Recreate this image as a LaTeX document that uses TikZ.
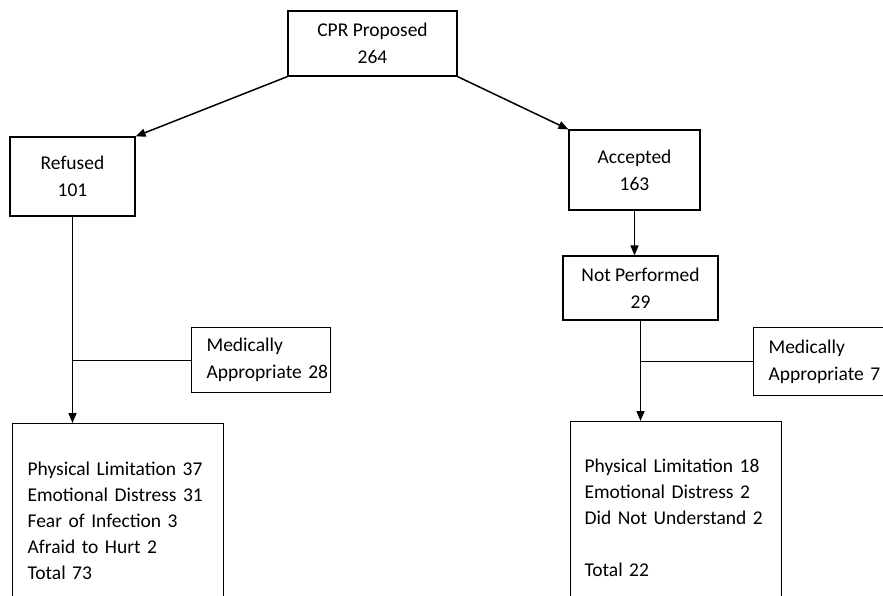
\documentclass[tikz,border=0pt]{standalone}
\usepackage{fontspec}
\setmainfont{Carlito}
\usetikzlibrary{arrows.meta}
\usetikzlibrary{positioning}

\tikzset{
  box/.style={draw,rectangle,line width=1.2pt,inner sep=0pt,align=center,
    font=\fontsize{19.5}{27}\selectfont},
  listbox/.style={box,align=left,inner xsep=15pt,anchor=north west},
  flow/.style={draw,line width=1.5pt,-{Triangle[length=10pt,width=8pt]}},
  link/.style={draw,line width=1.2pt}
}

\begin{document}
\begin{tikzpicture}[x=1pt,y=-1pt]

  \useasboundingbox (0,0) rectangle (883,596);
  \clip (0,0) rectangle (883,596);

  % top of the tree
  \node [box,minimum width=169pt,minimum height=65pt] (cpr) at (372.5,43.5) {CPR Proposed\\264};
  \node [box,minimum width=125pt,minimum height=79pt] (refused) at (72.5,176.5) {Refused\\101};
  \node [box,minimum width=131pt,minimum height=80pt] (accepted) at (634.5,170) {Accepted\\163};
  \node [box,minimum width=155pt,minimum height=64pt] (notperf) at (640.5,288) {Not Performed\\29};

  % side boxes
  \node [listbox,minimum height=65pt,text width=109pt] (medL) at (191,327) {Medically\\Appropriate~28};
  \node [listbox,minimum height=68pt,text width=109pt] (medR) at (753,327) {Medically\\Appropriate~7};

  % reasons
  \node [listbox,text width=181pt,minimum height=194pt,font=\fontsize{19.5}{26}\selectfont] (outL) at (12,423)
    {Physical Limitation 37\\Emotional Distress 31\\Fear of Infection 3\\Afraid to Hurt 2\\Total 73};
  \node [listbox,text width=183pt,minimum height=193pt,inner xsep=14pt,font=\fontsize{19.5}{26}\selectfont] (outR) at (570,421)
    {Physical Limitation 18\\Emotional Distress 2\\Did Not Understand 2\\[26pt]Total 22};

  \draw [flow] (cpr.south west) -- (refused.north east);
  \draw [flow] (cpr.south east) -- (accepted.north west);
  \draw [flow] (accepted.south) -- (accepted.south |- notperf.north);

  \draw [flow] (refused.south) -- (refused.south |- outL.north);
  \draw [flow] (notperf.south) -- (notperf.south |- outR.north);

  \draw [link] (refused.south |- medL.west) -- (medL.west);
  \draw [link] (notperf.south |- medR.west) -- (medR.west);

\end{tikzpicture}
\end{document}
